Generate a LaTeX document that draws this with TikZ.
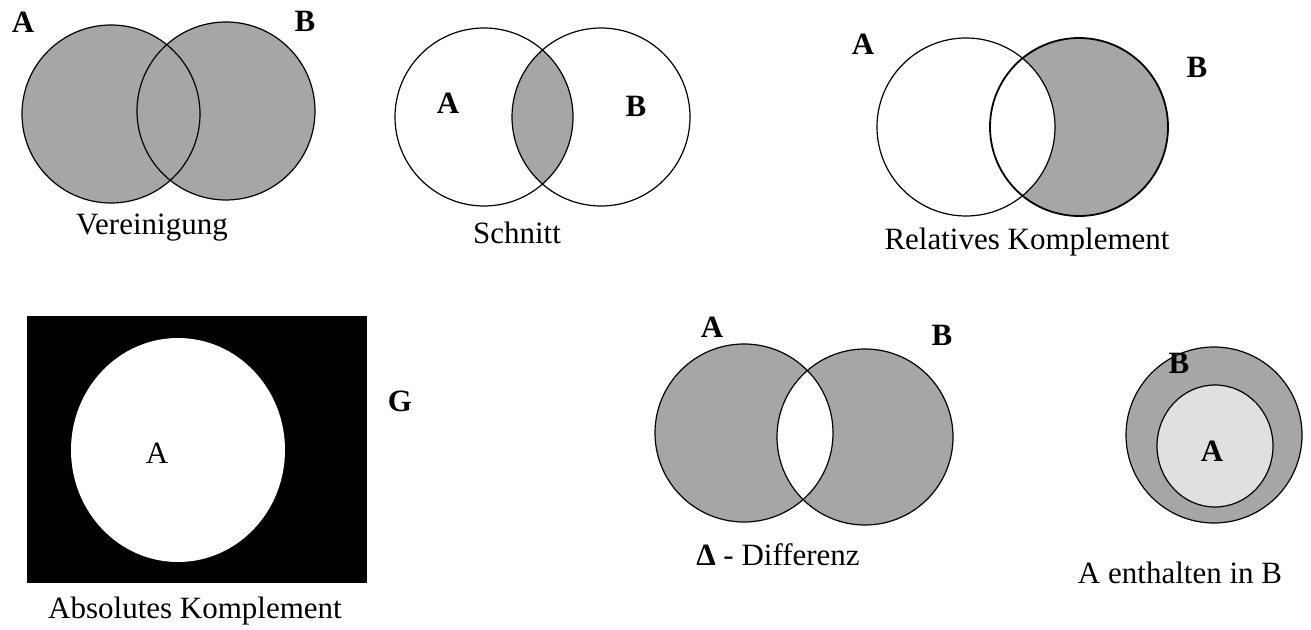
\documentclass[tikz,border=0pt]{standalone}
\usepackage{fontspec}
\setmainfont{Liberation Serif}
\tikzset{
  setfill/.style={fill=black!35},
  subfill/.style={fill=black!12},
  setline/.style={draw=black, line width=0.6pt},
  setname/.style={anchor=base, font=\fontsize{15.5}{18}\selectfont\bfseries},
  caption/.style={anchor=base, font=\fontsize{15.5}{18}\selectfont},
}
\begin{document}
\begin{tikzpicture}[x=0.5pt, y=-0.5pt]
  \def\rad{89}
  \useasboundingbox (0,0) rectangle (1311,630);

  % Vereinigung: both circles shaded
  \coordinate (VA) at (111,114);
  \coordinate (VB) at (226,111);
  \fill[setfill] (VA) circle[radius=\rad] (VB) circle[radius=\rad];
  \draw[setline] (VA) circle[radius=\rad] (VB) circle[radius=\rad];
  \node[setname] (vnA) at (23,33) {A};
  \node[setname] (vnB) at (305,32) {B};
  \node[caption] (vcap) at (152,235) {Vereinigung};

  % Schnitt: only the lens
  \coordinate (SA) at (484,117);
  \coordinate (SB) at (601,117);
  \begin{scope}
    \clip (SA) circle[radius=\rad];
    \fill[setfill] (SB) circle[radius=\rad];
  \end{scope}
  \draw[setline] (SA) circle[radius=\rad] (SB) circle[radius=\rad];
  \node[setname] (snA) at (448,114) {A};
  \node[setname] (snB) at (636,117) {B};
  \node[caption] (scap) at (517,244) {Schnitt};

  % Relatives Komplement: B without A
  \coordinate (RA) at (966,127);
  \coordinate (RB) at (1079,127);
  \fill[setfill] (RB) circle[radius=\rad];
  \fill[white] (RA) circle[radius=\rad];
  \draw[setline] (RA) circle[radius=\rad];
  \draw[setline, line width=0.9pt] (RB) circle[radius=\rad];
  \node[setname] (rnA) at (863,55) {A};
  \node[setname] (rnB) at (1197,78) {B};
  \node[caption] (rcap) at (1027,250) {Relatives Komplement};

  % Absolutes Komplement: everything in G outside A
  \coordinate (GA) at (178,450);
  \fill[black] (27,316) rectangle (367,583);
  \fill[white] (GA) ellipse[x radius=107, y radius=112];
  \node[setname, font=\fontsize{15.5}{18}\selectfont] (gnA) at (157,463) {A};
  \node[setname] (gnG) at (400,412) {G};
  \node[caption] (gcap) at (195,618) {Absolutes Komplement};

  % Differenz: union minus lens
  \coordinate (DA) at (744,433);
  \coordinate (DB) at (865,437);
  \fill[setfill] (DA) circle[radius=\rad] (DB) circle[radius=88];
  \begin{scope}
    \clip (DA) circle[radius=\rad];
    \fill[white] (DB) circle[radius=88];
  \end{scope}
  \draw[setline] (DA) circle[radius=\rad] (DB) circle[radius=88];
  \node[setname] (dnA) at (712,338) {A};
  \node[setname] (dnB) at (942,346) {B};
  \node[caption] (dcap) at (778,565) {\textbf{Δ} - Differenz};

  % A enthalten in B
  \coordinate (EB) at (1214,435);
  \coordinate (EA) at (1215,446);
  \fill[setfill] (EB) circle[radius=88];
  \fill[subfill] (EA) ellipse[x radius=58, y radius=61];
  \draw[setline] (EB) circle[radius=88];
  \draw[setline] (EA) ellipse[x radius=58, y radius=61];
  \node[setname] (enB) at (1179,373) {B};
  \node[setname] (enA) at (1212,461) {A};
  \node[caption] (ecap) at (1180,583) {A enthalten in B};
\end{tikzpicture}
\end{document}
